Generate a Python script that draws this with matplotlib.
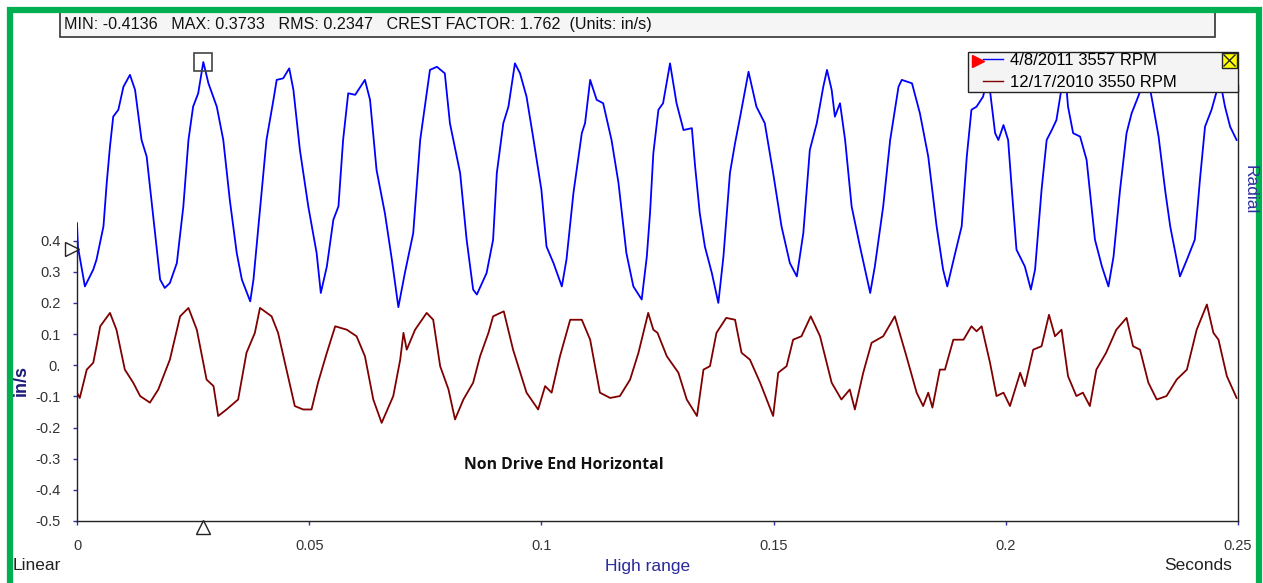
import numpy as np
import matplotlib
matplotlib.use('Agg')
import matplotlib.pyplot as plt
from matplotlib.lines import Line2D
from matplotlib.patches import Rectangle
import matplotlib.transforms as mtransforms

plt.rcParams['font.family'] = ['Liberation Sans', 'DejaVu Sans']

# ---------------------------------------------
#  waveform data
#  time in ms, velocity in in/s
# ---------------------------------------------
blue_t = [0.0, 0.2, 1.7, 3.5, 4.2, 5.7, 6.4, 7.1, 7.8, 8.9, 10.0, 11.4, 12.5, 13.9, 15.0,
          16.4, 17.9, 18.9, 20.0, 21.5, 22.9, 24.0, 25.0, 26.1, 27.2, 28.3, 30.1, 31.5, 32.9,
          34.4, 35.5, 37.3, 38.0, 39.8, 40.8, 42.3, 43.0, 44.4, 45.7, 46.6, 48.0, 49.8, 51.6,
          52.5, 53.8, 55.2, 56.3, 57.3, 58.4, 59.9, 62.0, 63.1, 64.5, 66.3, 67.8, 69.2, 70.6,
          72.4, 73.9, 74.9, 76.0, 77.5, 79.2, 80.3, 82.5, 83.9, 85.3, 86.1, 88.2, 89.6, 90.4,
          91.8, 92.9, 94.3, 95.4, 96.8, 98.2, 100.0, 101.1, 102.6, 104.4, 105.4, 106.9, 108.7,
          109.4, 110.5, 111.9, 113.3, 115.1, 116.6, 118.3, 119.8, 121.6, 122.7, 123.4, 124.1,
          125.2, 126.2, 127.7, 129.1, 130.6, 132.4, 133.1, 134.1, 135.2, 136.7, 138.1, 139.2,
          140.6, 141.7, 142.8, 144.6, 146.3, 148.1, 149.9, 151.7, 153.5, 155.0, 156.4, 157.8,
          159.3, 160.7, 161.5, 162.5, 163.2, 164.3, 165.4, 166.8, 168.6, 170.8, 171.8, 173.6,
          175.1, 176.9, 177.6, 179.8, 181.5, 183.3, 185.1, 186.5, 187.4, 189.1, 190.5, 191.6,
          192.6, 193.7, 195.1, 196.2, 197.7, 198.4, 199.5, 200.5, 201.3, 202.3, 204.1, 205.4,
          206.3, 207.7, 208.8, 209.9, 210.9, 212.7, 213.4, 214.5, 216.0, 217.4, 219.2, 220.7,
          222.1, 223.2, 224.6, 226.0, 227.1, 228.5, 230.4, 231.5, 232.9, 234.3, 235.4, 237.5,
          239.0, 240.7, 241.8, 242.9, 244.3, 246.1, 247.2, 248.3, 249.7]
blue_v = [-0.144, -0.22, -0.347, -0.293, -0.261, -0.154, -0.015, 0.102, 0.198, 0.22, 0.294,
          0.332, 0.284, 0.123, 0.07, -0.122, -0.325, -0.352, -0.336, -0.272, -0.09, 0.123,
          0.23, 0.273, 0.3733, 0.305, 0.23, 0.123, -0.069, -0.24, -0.325, -0.395, -0.325,
          -0.037, 0.123, 0.252, 0.316, 0.321, 0.353, 0.284, 0.091, -0.09, -0.24, -0.368,
          -0.283, -0.133, -0.09, 0.123, 0.273, 0.268, 0.316, 0.252, 0.027, -0.112, -0.261,
          -0.4136, -0.304, -0.176, 0.123, 0.23, 0.348, 0.358, 0.337, 0.177, 0.017, -0.197,
          -0.357, -0.373, -0.304, -0.197, 0.017, 0.177, 0.23, 0.369, 0.337, 0.262, 0.134,
          -0.037, -0.219, -0.272, -0.347, -0.261, -0.047, 0.145, 0.177, 0.316, 0.252, 0.241,
          0.123, -0.015, -0.24, -0.347, -0.389, -0.251, -0.11, 0.08, 0.22, 0.241, 0.369,
          0.241, 0.155, 0.161, 0.038, -0.112, -0.219, -0.304, -0.4, -0.251, 0.017, 0.113,
          0.198, 0.342, 0.23, 0.177, 0.017, -0.154, -0.272, -0.315, -0.176, 0.091, 0.177,
          0.294, 0.348, 0.284, 0.198, 0.241, 0.123, -0.09, -0.219, -0.368, -0.283, -0.09,
          0.123, 0.294, 0.316, 0.305, 0.209, 0.07, -0.154, -0.293, -0.347, -0.24, -0.154,
          0.07, 0.22, 0.23, 0.262, 0.33, 0.145, 0.123, 0.171, 0.123, -0.037, -0.229, -0.283,
          -0.357, -0.293, -0.037, 0.123, 0.155, 0.187, 0.354, 0.23, 0.145, 0.134, 0.059,
          -0.197, -0.283, -0.347, -0.251, -0.037, 0.145, 0.209, 0.262, 0.34, 0.252, 0.134,
          -0.037, -0.154, -0.315, -0.261, -0.197, -0.005, 0.166, 0.22, 0.316, 0.23, 0.166,
          0.123]

red_t = [0.0, 0.6, 2.1, 3.5, 4.2, 5.0, 7.1, 8.5, 10.3, 12.1, 13.6, 15.7, 17.5, 20.0, 22.2,
         24.0, 25.8, 27.9, 29.4, 30.4, 32.2, 34.7, 36.5, 38.3, 39.4, 41.9, 43.3, 45.1, 46.9,
         48.7, 50.5, 51.9, 53.8, 55.6, 58.1, 60.2, 62.0, 63.8, 65.6, 68.1, 69.6, 70.3, 71.0,
         72.8, 75.3, 76.7, 78.2, 80.0, 81.4, 83.2, 85.3, 86.8, 88.6, 89.6, 91.9, 93.9, 96.8,
         99.3, 100.8, 102.2, 104.0, 106.2, 108.7, 110.5, 112.6, 114.8, 116.9, 119.1, 120.9,
         123.0, 124.1, 125.0, 127.0, 129.5, 131.3, 133.5, 134.9, 136.3, 137.7, 139.8, 141.7,
         143.1, 144.9, 147.1, 149.9, 151.0, 152.8, 154.2, 156.0, 158.0, 160.0, 162.5, 164.6,
         166.4, 167.5, 169.3, 171.1, 173.6, 176.1, 178.6, 180.8, 182.2, 183.3, 184.2, 185.8,
         186.9, 188.7, 190.9, 192.6, 193.7, 194.8, 196.6, 198.0, 199.5, 200.9, 203.1, 204.1,
         205.9, 207.7, 209.3, 210.6, 212.0, 213.4, 215.2, 216.6, 218.1, 219.5, 221.6, 223.8,
         226.0, 227.4, 228.9, 230.7, 232.5, 234.6, 236.8, 239.0, 241.1, 243.3, 244.7, 245.8,
         247.6, 249.7]
red_v = [-0.088, -0.105, -0.014, 0.008, 0.061, 0.125, 0.168, 0.114, -0.014, -0.056, -0.099,
         -0.12, -0.078, 0.018, 0.157, 0.184, 0.114, -0.046, -0.067, -0.163, -0.142, -0.11,
         0.04, 0.104, 0.184, 0.157, 0.104, -0.014, -0.131, -0.142, -0.142, -0.056, 0.04,
         0.125, 0.114, 0.093, 0.029, -0.11, -0.185, -0.099, 0.018, 0.104, 0.05, 0.114, 0.168,
         0.146, -0.003, -0.078, -0.174, -0.11, -0.056, 0.029, 0.104, 0.157, 0.173, 0.05,
         -0.088, -0.142, -0.067, -0.088, 0.029, 0.146, 0.146, 0.082, -0.088, -0.105, -0.099,
         -0.046, 0.04, 0.168, 0.114, 0.104, 0.029, -0.024, -0.11, -0.163, -0.014, -0.003,
         0.104, 0.152, 0.146, 0.04, 0.018, -0.056, -0.163, -0.024, -0.003, 0.082, 0.093,
         0.157, 0.093, -0.056, -0.11, -0.078, -0.142, -0.024, 0.072, 0.093, 0.157, 0.029,
         -0.088, -0.131, -0.088, -0.136, -0.014, -0.014, 0.082, 0.082, 0.125, 0.109, 0.125,
         0.008, -0.099, -0.088, -0.131, -0.024, -0.067, 0.05, 0.061, 0.162, 0.093, 0.114,
         -0.035, -0.099, -0.088, -0.131, -0.014, 0.04, 0.114, 0.152, 0.061, 0.05, -0.056,
         -0.11, -0.099, -0.046, -0.014, 0.114, 0.195, 0.104, 0.082, -0.035, -0.105]

blue_offset = 0.6   # cascade offset of the newer trace
labels = ['4/8/2011 3557 RPM', '12/17/2010 3550 RPM']
yticks = [0.4, 0.3, 0.2, 0.1, 0.0, -0.1, -0.2, -0.3, -0.4, -0.5]
ytick_labels = ['0.4', '0.3', '0.2', '0.1', '0.', '-0.1', '-0.2', '-0.3', '-0.4', '-0.5']
xticks = [0, 0.05, 0.1, 0.15, 0.2, 0.25]
xtick_labels = ['0', '0.05', '0.1', '0.15', '0.2', '0.25']
stats = 'MIN: -0.4136   MAX: 0.3733   RMS: 0.2347   CREST FACTOR: 1.762  (Units: in/s)'

W, H = 1263, 583
def fx(px):
    return px / W
def fy(py):
    return 1 - py / H

fig = plt.figure(figsize=(W / 100, H / 100), dpi=100)
ax = fig.add_axes([fx(77), fy(521), fx(1238) - fx(77), fy(40) - fy(521)])

bt = np.array(blue_t) / 1000.
bv = np.array(blue_v) + blue_offset
rt = np.array(red_t) / 1000.
rv = np.array(red_v)

ax.plot(bt, bv, color='#0000ff', lw=1.3, label=labels[0])
ax.plot(rt, rv, color='#800000', lw=1.3, label=labels[1])

ax.set_xlim(0, 0.25)
ax.set_ylim(-0.5, 1.044)
ax.set_yticks(yticks)
ax.set_yticklabels(ytick_labels)
ax.set_xticks(xticks)
ax.set_xticklabels(xtick_labels)
ax.tick_params(axis='both', length=3, width=1, color='#3030a0', labelsize=10.5,
               labelcolor='#333333')
ax.tick_params(axis='y', pad=9)
ax.tick_params(axis='x', pad=10)

ax.spines['top'].set_visible(False)
ax.spines['left'].set_bounds(-0.5, 0.4)
ax.spines['right'].set_bounds(-0.5, 0.9)
for s in ['left', 'bottom', 'right']:
    ax.spines[s].set_color('#222222')
    ax.spines[s].set_linewidth(1.0)

# cursor marks at the max amplitude
imax = int(np.argmax(bv))
ax.plot(bt[imax], bv[imax], marker='s', ms=13, mfc='none', mec='#444444', mew=1.2, clip_on=False)
tr_down = mtransforms.offset_copy(ax.transData, fig=fig, y=-6, units='dots')
ax.plot(bt[imax], -0.5, marker='^', ms=10, mfc='white', mec='#222222', mew=1.0,
        transform=tr_down, clip_on=False)
tr_left = mtransforms.offset_copy(ax.transData, fig=fig, x=-5, units='dots')
ax.plot(0, blue_v[imax], marker='>', ms=10, mfc='white', mec='#222222', mew=1.0,
        transform=tr_left, clip_on=False)

# legend box (frame drawn separately so the entries can start after the red pointer)
tf = fig.transFigure
ax.add_patch(Rectangle((fx(968), fy(92)), fx(1238) - fx(968), 40 / H, facecolor='#f4f4f4',
                       edgecolor='#222222', lw=1.0, zorder=4.5, transform=tf, clip_on=False))
leg = ax.legend(loc='upper left', bbox_to_anchor=(fx(983), fy(53)),
                bbox_transform=tf, fontsize=12, frameon=False,
                borderpad=0.0, labelspacing=0.4, handlelength=1.2, handletextpad=0.4,
                borderaxespad=0.0)
leg.set_zorder(6)
for lh in leg.get_lines():
    lh.set_linewidth(1.0)
ax.add_line(Line2D([fx(978)], [fy(61)], marker='>', color='red', ms=8, ls='none', zorder=7,
                   transform=tf, clip_on=False))
ax.add_patch(Rectangle((fx(1222), fy(68)), fx(15), 15 / H, facecolor='#ffff00',
                       edgecolor='#222222', lw=1.0, zorder=7, transform=tf, clip_on=False))
ax.add_line(Line2D([fx(1224), fx(1235)], [fy(55), fy(66)], color='#222222', lw=1.0, zorder=8,
                   transform=tf, clip_on=False))
ax.add_line(Line2D([fx(1224), fx(1235)], [fy(66), fy(55)], color='#222222', lw=1.0, zorder=8,
                   transform=tf, clip_on=False))

# stats header box
fig.add_artist(Rectangle((fx(60), fy(37)), fx(1215) - fx(60), 25 / H, facecolor='#f5f5f5',
                         edgecolor='#333333', lw=1.2))
fig.text(fx(64), fy(24), stats, ha='left', va='center', fontsize=11.6, color='#111111')

# axis texts
fig.text(fx(13), fy(566), 'Linear', ha='left', va='center', fontsize=12.5, color='#222222')
fig.text(fx(648), fy(566), 'High range', ha='center', va='center', fontsize=12.5, color='#2a2a9a')
fig.text(fx(1232), fy(566), 'Seconds', ha='right', va='center', fontsize=12.5, color='#222222')
fig.text(fx(21), fy(380), 'in/s', rotation=90, ha='center', va='center', fontsize=13,
         fontweight='bold', color='#1c1c7c')
fig.text(fx(1250), fy(190), 'Radial', rotation=270, ha='center', va='center', fontsize=12.5,
         color='#3030a0')
fig.text(fx(564), fy(465), 'Non Drive End Horizontal', ha='center', va='center', fontsize=11.3,
         fontweight='bold', color='#111111', family=['Open Sans', 'DejaVu Sans'])

# green frame
fig.add_artist(Rectangle((fx(10), -0.05), fx(1259) - fx(10), fy(10) + 0.05, facecolor='none',
                         edgecolor='#00b050', lw=4.5))

fig.savefig('out.png', dpi=100)
